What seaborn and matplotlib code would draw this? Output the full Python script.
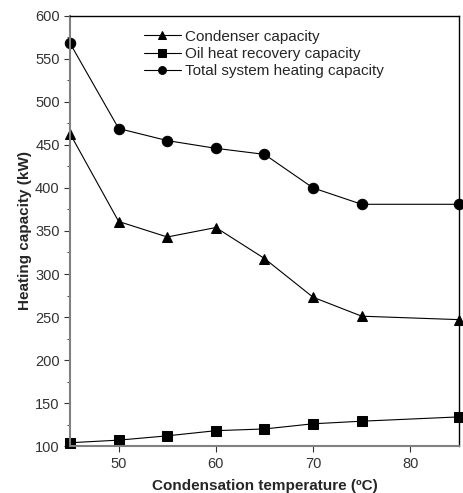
import matplotlib
matplotlib.use('Agg')
import matplotlib.pyplot as plt
import numpy as np
import pandas as pd
import seaborn as sns
from matplotlib.ticker import MultipleLocator

temps = [45, 50, 55, 60, 65, 70, 75, 85]
condenser = [463, 361, 343, 354, 318, 273, 251, 247]
oil_recovery = [104, 107, 112, 118, 120, 126, 129, 134]
total = [568, 469, 455, 446, 439, 400, 381, 381]

series_names = ['Condenser capacity', 'Oil heat recovery capacity',
                'Total system heating capacity']

sns.set_style('ticks')
plt.rcParams['font.family'] = ['Liberation Sans', 'DejaVu Sans']

df = pd.DataFrame({
    'temp': temps * 3,
    'value': condenser + oil_recovery + total,
    'series': np.repeat(series_names, len(temps)),
})

fig = plt.figure(figsize=(4.64, 4.93), dpi=100)
ax = fig.add_axes([0.151, 0.095, 0.838, 0.873])

sns.lineplot(data=df, x='temp', y='value', hue='series', style='series',
             markers=['^', 's', 'o'], dashes=False,
             palette=['black', 'black', 'black'],
             markersize=7.5, linewidth=0.8, markeredgecolor='black',
             clip_on=False, ax=ax)

ax.set_xlim(45, 85)
ax.set_ylim(100, 600)
ax.set_xticks([50, 60, 70, 80])
ax.yaxis.set_major_locator(MultipleLocator(50))
ax.yaxis.set_minor_locator(MultipleLocator(25))
ax.tick_params(axis='both', labelsize=10.5, colors='#333333', length=4)
ax.tick_params(axis='y', which='minor', length=2.5)

for side in ['left', 'bottom']:
    ax.spines[side].set_color('#808080')
    ax.spines[side].set_linewidth(1.5)
for side in ['top', 'right']:
    ax.spines[side].set_color('black')
    ax.spines[side].set_linewidth(1.0)

ax.set_xlabel('Condensation temperature (ºC)', fontsize=11, fontweight='bold',
              labelpad=6)
ax.set_ylabel('Heating capacity (kW)', fontsize=11, fontweight='bold',
              labelpad=2)

leg = ax.legend(loc='upper left', bbox_to_anchor=(0.155, 1.0), frameon=False,
                fontsize=11, handlelength=2.4, labelspacing=0.22,
                handletextpad=0.3, markerscale=0.75, title=None)

fig.savefig('out.png', dpi=100)
